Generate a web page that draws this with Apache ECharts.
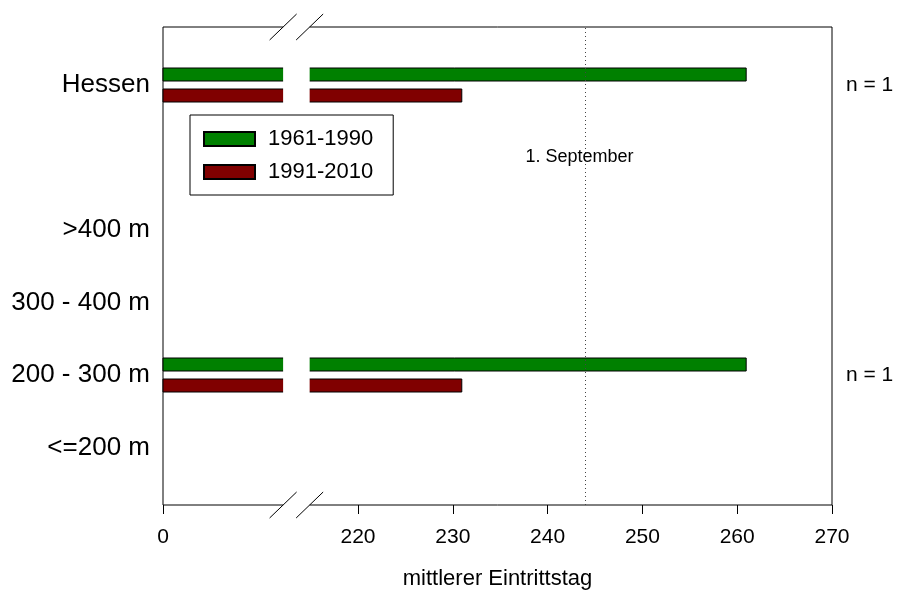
<!DOCTYPE html>
<html>
<head>
<meta charset="utf-8">
<script src="https://cdn.jsdelivr.net/npm/echarts@6/dist/echarts.min.js"></script>
<style>html,body{margin:0;padding:0;background:#fff}#c{width:898px;height:590px}</style>
</head>
<body>
<div id="c"></div>
<script>
// ---- data ----
const categories = ['<=200 m', '200 - 300 m', '300 - 400 m', '>400 m', '', 'Hessen'];
const series1961 = [null, 261, null, null, null, 261];
const series1991 = [null, 231, null, null, null, 231];
const nLabels = ['', 'n = 1', '', '', '', 'n = 1'];
const seriesNames = ['1961-1990', '1991-2010'];
const xTickValues = [199.43, 220, 230, 240, 250, 260, 270];
const xTickLabels = ['0', '220', '230', '240', '250', '260', '270'];
const septemberDay = 244;
const septemberLabel = '1. September';
const breakRange = [212.1, 214.9];
const xTitle = 'mittlerer Eintrittstag';

const FONT = 'Liberation Sans, Arial, sans-serif';
const chart = echarts.init(document.getElementById('c'), null, {renderer: 'canvas'});

const option = {
  animation: false,
  backgroundColor: '#fff',
  textStyle: {fontFamily: FONT, color: '#000'},
  grid: [
    {left: 163, right: 66, top: 27, bottom: 85, outerBoundsMode: 'none', containLabel: false,
     show: true, borderColor: '#000', borderWidth: 1, backgroundColor: 'transparent'},
    {left: 163, right: 66, top: 48.75, bottom: 106.25, outerBoundsMode: 'none', containLabel: false}
  ],
  legend: {
    data: seriesNames,
    orient: 'vertical',
    left: 190, top: 115, z: 200,
    icon: 'rect',
    itemWidth: 51, itemHeight: 14, itemGap: 11,
    padding: [13, 20, 12, 13],
    borderColor: '#000', borderWidth: 1,
    backgroundColor: '#fff',
    textStyle: {fontFamily: FONT, fontSize: 22, color: '#000', padding: [0, 0, 0, 8]}
  },
  xAxis: [
    {
      gridIndex: 0, type: 'value', min: xTickValues[0], max: 270,
      axisLine: {show: false},
      axisTick: {show: true, length: 9, customValues: xTickValues, lineStyle: {color: '#000'}},
      axisLabel: {
        customValues: xTickValues, fontSize: 21, color: '#000', margin: 22, fontFamily: FONT,
        formatter: v => { const i = xTickValues.indexOf(v); return i >= 0 ? xTickLabels[i] : ''; }
      },
      splitLine: {show: false},
      name: xTitle, nameLocation: 'middle', nameGap: 63,
      nameTextStyle: {fontSize: 22, color: '#000', fontFamily: FONT}
    },
    {gridIndex: 1, type: 'value', min: xTickValues[0], max: 270, show: false}
  ],
  yAxis: [
    {gridIndex: 0, type: 'value', min: 0.2, max: 6.8, show: false},
    {
      gridIndex: 1, type: 'category', data: categories,
      axisLine: {show: false}, axisTick: {show: false},
      axisLabel: {fontSize: 26, color: '#000', margin: 13, fontFamily: FONT}
    },
    {
      gridIndex: 1, type: 'category', data: categories, position: 'right',
      axisLine: {show: false}, axisTick: {show: false},
      axisLabel: {fontSize: 21, color: '#000', margin: 14, fontFamily: FONT,
        formatter: (v, i) => nLabels[i]}
    }
  ],
  series: [
    {
      name: seriesNames[0], type: 'bar', xAxisIndex: 1, yAxisIndex: 1,
      data: series1961, barWidth: 14, barGap: '50%',
      itemStyle: {color: '#008000', borderColor: '#000', borderWidth: 1}
    },
    {
      name: seriesNames[1], type: 'bar', xAxisIndex: 1, yAxisIndex: 1,
      data: series1991, barWidth: 14, barGap: '50%',
      itemStyle: {color: '#800000', borderColor: '#000', borderWidth: 1}
    },
    {
      name: 'ref', type: 'line', xAxisIndex: 0, yAxisIndex: 0, data: [],
      silent: true,
      markLine: {
        silent: true, symbol: 'none', label: {show: false},
        lineStyle: {color: '#444', type: [1, 3], width: 1},
        data: [{xAxis: septemberDay}]
      },
      markPoint: {
        silent: true, symbol: 'circle', symbolSize: 0,
        label: {show: true, position: 'inside', offset: [-6, 0], formatter: septemberLabel,
          fontSize: 18, color: '#000', fontFamily: FONT},
        data: [{coord: [septemberDay, 5]}]
      }
    }
  ]
};
chart.setOption(option);

// axis-break marks, placed through the axis scales
const bx0 = chart.convertToPixel({xAxisIndex: 0}, breakRange[0]);
const bx1 = chart.convertToPixel({xAxisIndex: 0}, breakRange[1]);
const yTop = chart.convertToPixel({yAxisIndex: 0}, 6.8);
const yBot = chart.convertToPixel({yAxisIndex: 0}, 0.2);
const d = 13.5;
const gr = [
  {type: 'rect', z: 100, shape: {x: bx0, y: yTop - 2, width: bx1 - bx0, height: yBot - yTop + 4}, style: {fill: '#fff'}}
];
[yTop, yBot].forEach(y => {
  [bx0, bx1].forEach(x => {
    gr.push({type: 'line', z: 101, shape: {x1: x - d, y1: y + 13, x2: x + d, y2: y - 13}, style: {stroke: '#000', lineWidth: 1}});
  });
});
chart.setOption({graphic: gr});
</script>
</body>
</html>
